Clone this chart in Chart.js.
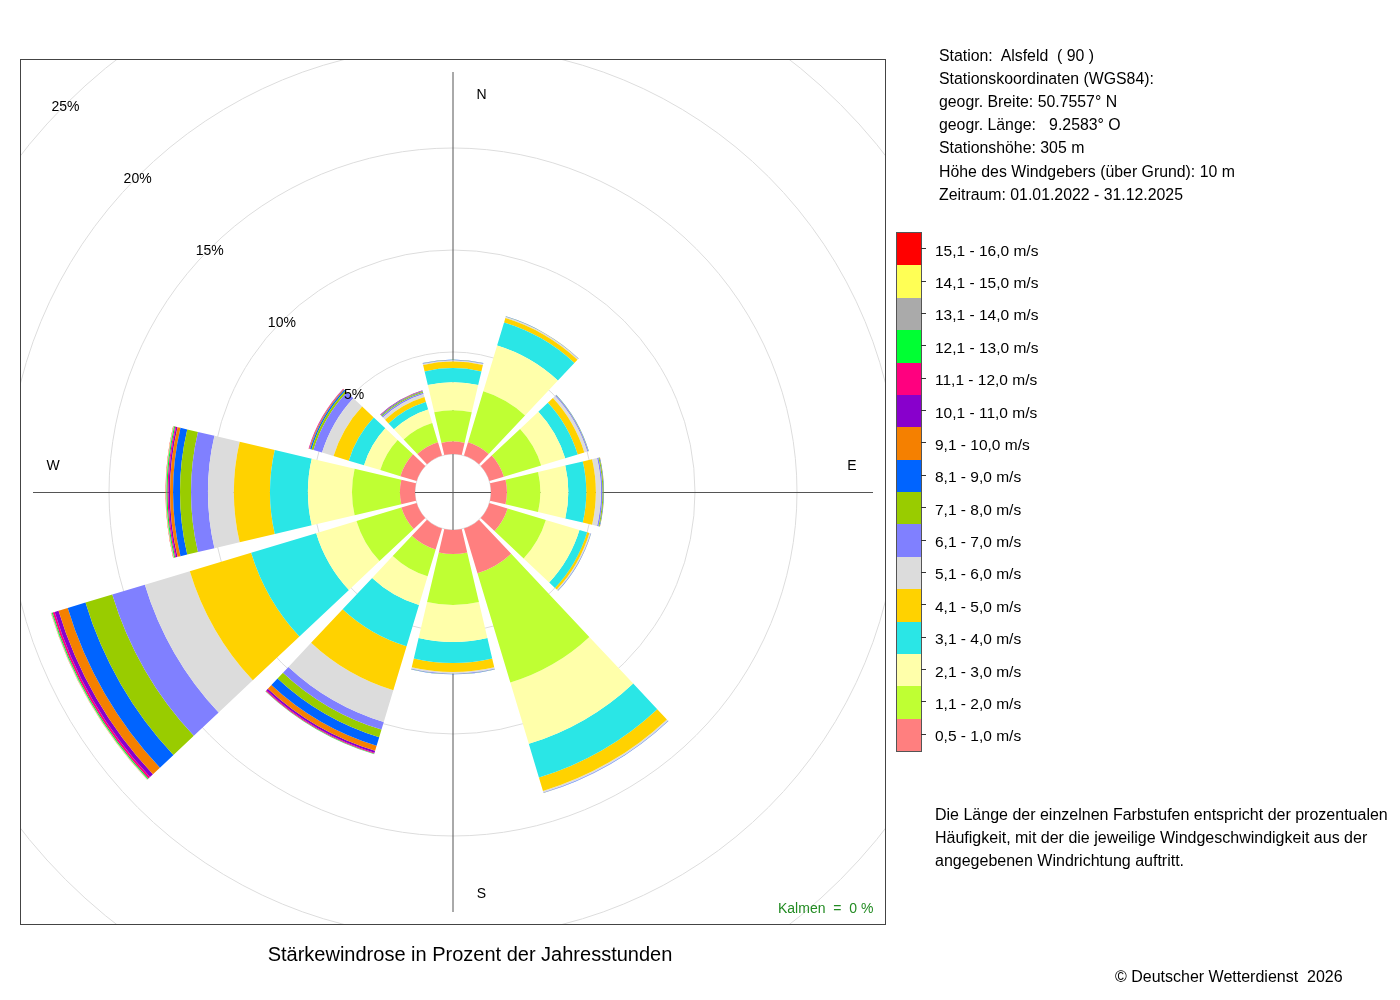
<!DOCTYPE html>
<html>
<head>
<meta charset="utf-8">
<script src="https://cdn.jsdelivr.net/npm/chart.js@4/dist/chart.umd.min.js"></script>
<style>
html,body{margin:0;padding:0;background:#fff;}
body{width:1400px;height:1000px;position:relative;overflow:hidden;font-family:"Liberation Sans",Arial,Helvetica,sans-serif;color:#000;}
#c{position:absolute;left:0;top:0;}
.txt{position:absolute;white-space:pre;}
#legendBox{position:absolute;left:896px;top:232px;width:24px;border:1px solid #555;box-sizing:content-box;}
#legendBox div{width:24px;}
#legendLabels{position:absolute;left:920px;top:232px;}
.lrow{position:relative;font-size:15.5px;}
.lrow span{position:absolute;left:15px;white-space:pre;}
.lrow i{position:absolute;left:1px;width:5px;height:1px;background:#333;}
</style>
</head>
<body>
<canvas id="c" width="1400" height="1000"></canvas>
<div id="info" class="txt" style="left:939px;top:43.5px;font-size:15.85px;line-height:23.2px;"></div>
<div id="legendBox"></div>
<div id="legendLabels"></div>
<div id="note" class="txt" style="left:935px;top:802.5px;font-size:16px;line-height:23px;"></div>
<div id="title" class="txt" style="left:0;width:940px;text-align:center;top:942px;font-size:20px;line-height:24px;"></div>
<div id="copy" class="txt" style="left:1115px;top:964.5px;font-size:16px;line-height:23px;"></div>
<div id="calm" class="txt" style="left:778px;top:898px;font-size:14px;line-height:20px;color:#228b22;"></div>
<script>
// ---------------- data (percent of annual hours) ----------------
const directions = ['N','NNO','ONO','O','OSO','SSO','S','SSW','WSW','W','WNW','NNW'];
const speedClasses = ['0,5 - 1,0 m/s','1,1 - 2,0 m/s','2,1 - 3,0 m/s','3,1 - 4,0 m/s','4,1 - 5,0 m/s',
  '5,1 - 6,0 m/s','6,1 - 7,0 m/s','7,1 - 8,0 m/s','8,1 - 9,0 m/s','9,1 - 10,0 m/s','10,1 - 11,0 m/s',
  '11,1 - 12,0 m/s','12,1 - 13,0 m/s','13,1 - 14,0 m/s','14,1 - 15,0 m/s','15,1 - 16,0 m/s'];
const classColors = ['#ff7f7f','#bfff33','#ffffaa','#2ae6e6','#ffd200','#dcdcdc','#8080ff','#99cc00',
  '#0064ff','#f58000','#8800cc','#ff007f','#00ff33','#aaaaaa','#ffff55','#ff0000'];

//                N     NNO   ONO   O     OSO   SSO   S     SSW   WSW   W     WNW   NNW
const v05_10  = [0.61, 0.69, 0.74, 0.78, 0.93, 2.30, 1.18, 1.08, 0.78, 0.74, 0.83, 0.69];
const v11_20  = [1.54, 2.60, 1.91, 1.64, 1.96, 5.59, 2.50, 1.37, 2.30, 2.35, 1.03, 0.98];
const v21_30  = [1.37, 2.35, 1.23, 1.37, 1.72, 3.14, 1.81, 1.47, 2.06, 2.16, 0.83, 0.69];
const v31_40  = [0.69, 1.18, 0.64, 0.88, 0.39, 1.72, 1.03, 2.11, 3.33, 1.86, 0.78, 0.39];
const v41_50  = [0.32, 0.22, 0.34, 0.47, 0.12, 0.69, 0.44, 2.26, 3.14, 1.77, 0.78, 0.25];
const v51_60  = [0.05, 0.05, 0.15, 0.25, 0.05, 0.07, 0.07, 1.62, 2.30, 1.27, 0.59, 0.15];
const v61_70  = [0.03, 0.02, 0.05, 0.07, 0.02, 0.02, 0.02, 0.39, 1.67, 0.83, 0.44, 0.07];
const v71_80  = [0.01, 0.01, 0.02, 0.05, 0.01, 0.01, 0.01, 0.39, 1.37, 0.54, 0.10, 0.05];
const v81_90  = [0.01, 0.01, 0.01, 0.02, 0.01, 0.01, 0.01, 0.44, 0.91, 0.34, 0.07, 0.03];
const v91_100 = [0.00, 0.00, 0.00, 0.01, 0.00, 0.00, 0.00, 0.25, 0.47, 0.15, 0.04, 0.02];
const v101_110= [0.00, 0.00, 0.00, 0.00, 0.00, 0.00, 0.00, 0.10, 0.20, 0.07, 0.02, 0.02];
const v111_120= [0.00, 0.00, 0.00, 0.00, 0.00, 0.00, 0.00, 0.05, 0.10, 0.05, 0.02, 0.01];
const v121_130= [0.00, 0.00, 0.00, 0.00, 0.00, 0.00, 0.00, 0.02, 0.05, 0.05, 0.00, 0.00];
const v131_140= [0.00, 0.00, 0.00, 0.00, 0.00, 0.00, 0.00, 0.01, 0.02, 0.02, 0.00, 0.00];
const v141_150= [0.00, 0.00, 0.00, 0.00, 0.00, 0.00, 0.00, 0.00, 0.015,0.015,0.00, 0.00];
const v151_160= [0.00, 0.00, 0.00, 0.00, 0.00, 0.00, 0.00, 0.00, 0.01, 0.015,0.00, 0.00];

const ringValues = [5, 10, 15, 20, 25];
const compassLabels = ['N', 'E', 'S', 'W'];
const calmText = 'Kalmen  =  0 %';
const stationLines = ['Station:  Alsfeld  ( 90 )','Stationskoordinaten (WGS84):','geogr. Breite: 50.7557° N',
  'geogr. Länge:   9.2583° O','Stationshöhe: 305 m','Höhe des Windgebers (über Grund): 10 m','Zeitraum: 01.01.2022 - 31.12.2025'];
const noteLines = ['Die Länge der einzelnen Farbstufen entspricht der prozentualen',
  'Häufigkeit, mit der die jeweilige Windgeschwindigkeit aus der','angegebenen Windrichtung auftritt.'];
const titleText = 'Stärkewindrose in Prozent der Jahresstunden';
const copyText = '© Deutscher Wetterdienst  2026';

const speedSeries = [v05_10,v11_20,v21_30,v31_40,v41_50,v51_60,v61_70,v71_80,v81_90,v91_100,
  v101_110,v111_120,v121_130,v131_140,v141_150,v151_160];

// ---------------- layout / style ----------------
const SECTOR = 26.5, GAP = 3.5;
const SCALE_MIN = -1.863, SCALE_MAX = 19.363;
const AXIS_REACH = 420, LABEL_R = 399, LABEL_OFF = 28.5, TEXT_DY = 2.5;

// ---------------- text ----------------
document.getElementById('info').textContent = stationLines.join('\n');
document.getElementById('note').textContent = noteLines.join('\n');
document.getElementById('title').textContent = titleText;
document.getElementById('copy').textContent = copyText;
document.getElementById('calm').textContent = calmText;

const ROW_H = 518 / speedClasses.length;
const lb = document.getElementById('legendBox');
const ll = document.getElementById('legendLabels');
for (let i = speedClasses.length - 1; i >= 0; i--) {
  const d = document.createElement('div');
  d.style.height = ROW_H + 'px';
  d.style.background = classColors[i];
  lb.appendChild(d);
  const r = document.createElement('div');
  r.className = 'lrow';
  r.style.height = ROW_H + 'px';
  r.innerHTML = '<i style="top:' + (ROW_H / 2) + 'px"></i><span style="top:' + (ROW_H / 2 - 6.5) + 'px;line-height:18px"></span>';
  r.querySelector('span').textContent = speedClasses[i];
  ll.appendChild(r);
}

// ---------------- chart ----------------
const labels24 = [];
directions.forEach(d => { labels24.push(d); labels24.push(''); });
let running = directions.map(() => 0);
const datasets = speedSeries.map((vals, i) => {
  running = running.map((r, k) => r + vals[k]);
  const data = [];
  running.forEach(r => { data.push(+r.toFixed(4)); data.push(0); });
  return {
    label: speedClasses[i],
    data,
    backgroundColor: ctx => (ctx.dataIndex % 2 ? 'rgba(0,0,0,0)' : classColors[i]),
    borderWidth: 0,
    angle: ctx => (ctx.dataIndex % 2 ? GAP : SECTOR)
  };
});

const stackPlugin = {
  id: 'stackRings',
  afterDatasetsUpdate(chart) {
    const s = chart.scales.r;
    const base = s.getDistanceFromCenterForValue(0);
    let prev = null;
    chart.data.datasets.forEach((ds, i) => {
      const meta = chart.getDatasetMeta(i);
      meta.data.forEach((arc, j) => {
        arc.innerRadius = prev ? prev[j].outerRadius : base;
      });
      prev = meta.data;
    });
  }
};

const decoPlugin = {
  id: 'deco',
  beforeDatasetsDraw(chart) {
    const {ctx, chartArea: a} = chart;
    const s = chart.scales.r;
    const xc = s.xCenter, yc = s.yCenter;
    ctx.save();
    ctx.beginPath(); ctx.rect(a.left, a.top, a.right - a.left, a.bottom - a.top); ctx.clip();
    ctx.strokeStyle = '#dddddd'; ctx.lineWidth = 1;
    [0].concat(ringValues).forEach(v => {
      ctx.beginPath();
      ctx.arc(xc, yc, s.getDistanceFromCenterForValue(v), 0, Math.PI * 2);
      ctx.stroke();
    });
    ctx.strokeStyle = '#555555';
    ctx.beginPath();
    ctx.moveTo(xc, yc - AXIS_REACH); ctx.lineTo(xc, yc + AXIS_REACH);
    ctx.moveTo(xc - AXIS_REACH, yc + 0.5); ctx.lineTo(xc + AXIS_REACH, yc + 0.5);
    ctx.stroke();
    ctx.restore();
  },
  afterDatasetsDraw(chart) {
    const {ctx, chartArea: a} = chart;
    const s = chart.scales.r;
    const xc = s.xCenter, yc = s.yCenter;
    ctx.save();
    ctx.fillStyle = '#000';
    ctx.textAlign = 'center'; ctx.textBaseline = 'middle';
    ctx.font = '14px "Liberation Sans", Arial, sans-serif';
    ringValues.forEach(v => {
      const r = s.getDistanceFromCenterForValue(v) * Math.SQRT1_2;
      ctx.fillText(v + '%', xc - r, yc - r + TEXT_DY);
    });
    const pos = [[LABEL_OFF, -LABEL_R], [LABEL_R, -LABEL_OFF], [LABEL_OFF, LABEL_R + 1], [-LABEL_R - 1, -LABEL_OFF]];
    compassLabels.forEach((t, i) => ctx.fillText(t, xc + pos[i][0], yc + pos[i][1] + TEXT_DY));
    ctx.strokeStyle = '#444'; ctx.lineWidth = 1;
    ctx.strokeRect(a.left + 0.5, a.top + 0.5, a.right - a.left - 1, a.bottom - a.top - 1);
    ctx.restore();
  }
};

new Chart(document.getElementById('c'), {
  type: 'polarArea',
  data: { labels: labels24, datasets },
  options: {
    responsive: false,
    animation: false,
    devicePixelRatio: 1,
    events: [],
    layout: { padding: { left: 20, top: 59, right: 514, bottom: 75 } },
    plugins: { legend: { display: false }, tooltip: { enabled: false }, title: { display: false } },
    scales: {
      r: {
        type: 'radialLinear',
        min: SCALE_MIN,
        max: SCALE_MAX,
        startAngle: -SECTOR / 2,
        grid: { display: false },
        angleLines: { display: false },
        ticks: { display: false },
        pointLabels: { display: false }
      }
    }
  },
  plugins: [stackPlugin, decoPlugin]
});
</script>
</body>
</html>
